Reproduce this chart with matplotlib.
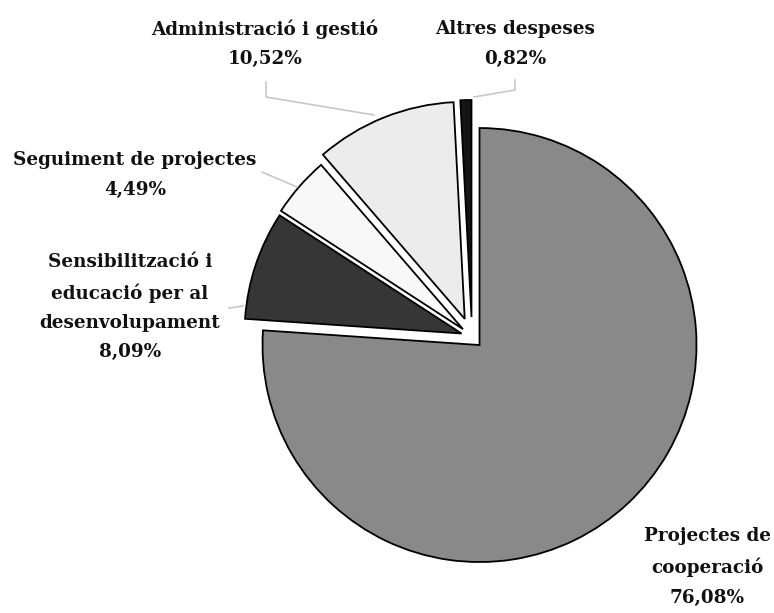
import matplotlib.pyplot as plt

categories = ["Projectes de\ncooperació", "Sensibilització i\neducació per al\ndesenvolupament",
              "Seguiment de projectes", "Administració i gestió", "Altres despeses"]
percentages = [76.08, 8.09, 4.49, 10.52, 0.82]
colors = ["#898989", "#363636", "#f8f8f8", "#ececec", "#151515"]
# explode in pixels (pie radius is 217 px)
explode = [11, 11, 12, 19.5, 20]

# label placement (pixel coords from top-left) and leader lines
label_pos = [(707, 567), (130, 307), (135, 175), (265, 44), (515, 44)]
leaders = [None,
           [(229, 308), (243, 306)],
           [(262, 172), (297, 187)],
           [(266, 82), (266, 97), (374, 115)],
           [(515, 80), (515, 90), (474, 97)]]

W, H = 774, 613
fig = plt.figure(figsize=(W / 100, H / 100), dpi=100)
ax = fig.add_axes([0, 0, 1, 1])

ax.pie(percentages, colors=colors, explode=explode, startangle=90, counterclock=False,
       center=(472, H - 337), radius=217, frame=True,
       wedgeprops=dict(edgecolor="black", linewidth=1.3))
ax.set_xlim(0, W)
ax.set_ylim(0, H)
ax.set_aspect("equal")
ax.axis("off")

for cat, pct, (x, y), lead in zip(categories, percentages, label_pos, leaders):
    txt = cat + "\n" + f"{pct:.2f}".replace(".", ",") + "%"
    ax.text(x, H - y, txt, ha="center", va="center", fontsize=13.2, fontweight="bold",
            family="DejaVu Serif", color="#111111", linespacing=1.8)
    if lead:
        ax.plot([p[0] for p in lead], [H - p[1] for p in lead], color="#c8c8c8", lw=1.2)

fig.savefig("out.png", dpi=100)
